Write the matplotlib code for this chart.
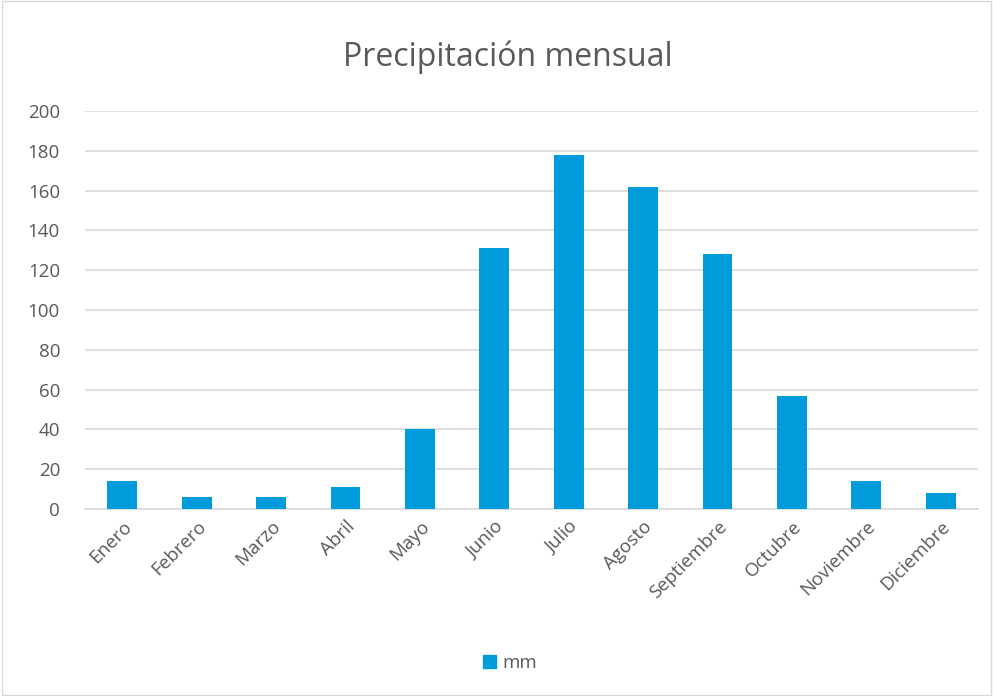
import matplotlib
matplotlib.use("Agg")
import matplotlib.pyplot as plt
from matplotlib.patches import Rectangle, Patch

meses = ['Enero', 'Febrero', 'Marzo', 'Abril', 'Mayo', 'Junio', 'Julio',
         'Agosto', 'Septiembre', 'Octubre', 'Noviembre', 'Diciembre']
mm = [14, 6, 6, 11, 40, 131, 178, 162, 128, 57, 14, 8]
y_ticks = [0, 20, 40, 60, 80, 100, 120, 140, 160, 180, 200]

bar_color = '#009BDA'
text_color = '#595959'
grid_color = '#D9D9D9'

plt.rcParams['font.family'] = ['Open Sans', 'DejaVu Sans']

fig = plt.figure(figsize=(9.93, 6.96), dpi=100)
ax = fig.add_axes([85 / 993, 1 - 509 / 696, (978 - 85) / 993, (509 - 111) / 696])

x = list(range(len(meses)))
ax.bar(x, mm, width=0.4, color=bar_color, zorder=3)

ax.set_xlim(-0.5, len(meses) - 0.5)
ax.set_ylim(0, 200)
ax.set_yticks(y_ticks)
ax.set_xticks(x)
ax.set_xticklabels(meses, rotation=45, ha='right', rotation_mode='anchor',
                   fontsize=13.5, color=text_color)
ax.tick_params(axis='y', labelsize=13.5, labelcolor=text_color, length=0, pad=18)
ax.tick_params(axis='x', length=0, pad=6)
ax.yaxis.grid(True, color=grid_color, linewidth=1.2, zorder=0)
for side in ['top', 'right', 'left']:
    ax.spines[side].set_visible(False)
ax.spines['bottom'].set_color(grid_color)
ax.spines['bottom'].set_linewidth(1.2)

fig.text(508 / 993, 1 - 57 / 696, 'Precipitación mensual', ha='center', va='center',
         fontsize=23, color=text_color)

fig.legend(handles=[Patch(color=bar_color, label='mm')], loc='center',
           bbox_to_anchor=(510 / 993, 1 - 663 / 696), frameon=False,
           fontsize=13.5, labelcolor=text_color, handlelength=0.7, handleheight=0.7,
           handletextpad=0.3)

fig.patches.append(Rectangle((0.002, 0.002), 0.996, 0.996, transform=fig.transFigure,
                             fill=False, edgecolor=grid_color, linewidth=1))

fig.savefig('out.png', dpi=100)
